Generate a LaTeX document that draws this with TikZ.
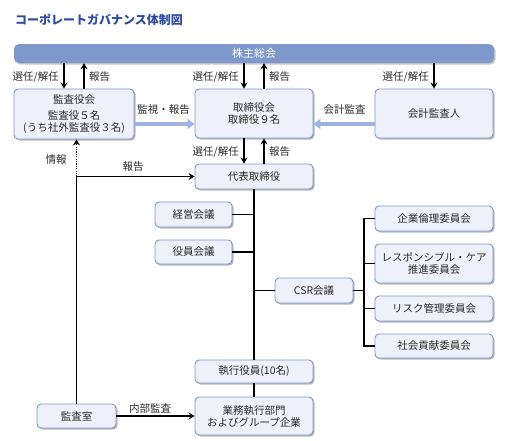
\documentclass[tikz,border=0pt]{standalone}
\usepackage{fontspec}
\setmainfont{Noto Sans CJK JP}
\usetikzlibrary{arrows.meta,shadows}

\definecolor{azul}{HTML}{2E4A9B}
\definecolor{barra}{HTML}{7F98CB}
\definecolor{borde}{HTML}{7A95CF}
\definecolor{fondo}{HTML}{EEF1F9}
\definecolor{flechaazul}{HTML}{9DB2E0}
\definecolor{texto}{HTML}{2A2A2A}

\tikzset{
  caja/.style={draw=borde, fill=fondo, rounded corners=4pt, line width=0.9pt,
    drop shadow={shadow xshift=1.5pt, shadow yshift=-1.5pt, fill=gray!55, opacity=1},
    align=center, inner sep=0pt, text=texto},
  franja/.style={fill=barra, rounded corners=5pt, text=white,
    drop shadow={shadow xshift=1.5pt, shadow yshift=-1.5pt, fill=gray!45, opacity=1}},
  etiqueta/.style={inner sep=0pt, text=texto},
  flecha/.style={line width=1.5pt, -{Stealth[length=6pt,width=7pt]}},
  linea/.style={line width=1.5pt},
  flechaancha/.style={draw=flechaazul, line width=3.5pt, -{Triangle[length=7pt,width=10pt]}}
}

\begin{document}
\begin{tikzpicture}[x=1pt, y=-1pt, font=\fontsize{10.5}{12}\selectfont]
    \useasboundingbox (0,0) rectangle (512,440);

    % Titulo
    \node[anchor=west, inner sep=0pt, text=azul, font=\fontsize{12}{14}\selectfont\bfseries] (titulo) at (15,20) {コーポレートガバナンス体制図};

    % Junta
    \node[franja, minimum width=480pt, minimum height=19pt, font=\fontsize{11}{12}\selectfont] (junta) at (254,53.5) {株主総会};

    % Fila superior
    \node[caja, minimum width=120pt, minimum height=50pt] (auditores) at (74,114) {監査役会\\[4pt]監査役５名\\(うち社外監査役３名)};
    \node[caja, minimum width=118pt, minimum height=49pt] (consejo) at (254,113.5) {取締役会\\取締役９名};
    \node[caja, minimum width=118pt, minimum height=49pt] (contable) at (434,113.5) {会計監査人};

    % Presidente y reuniones
    \node[caja, minimum width=118pt, minimum height=25pt] (presidente) at (254,176.5) {代表取締役};
    \node[caja, minimum width=77pt, minimum height=25pt] (gestion) at (193.5,214.5) {経営会議};
    \node[caja, minimum width=77pt, minimum height=24pt] (directivos) at (193.5,252) {役員会議};
    \node[caja, minimum width=78pt, minimum height=25pt] (csr) at (314,290.5) {CSR会議};

    % Comites
    \node[caja, minimum width=118pt, minimum height=25pt] (etica) at (434,218.5) {企業倫理委員会};
    \node[caja, minimum width=118pt, minimum height=39pt] (cuidado) at (434,263.5) {レスポンシブル・ケア\\推進委員会};
    \node[caja, minimum width=118pt, minimum height=25pt] (riesgo) at (434,308.5) {リスク管理委員会};
    \node[caja, minimum width=118pt, minimum height=24pt] (social) at (434,346) {社会貢献委員会};

    % Ejecutivos
    \node[caja, minimum width=118pt, minimum height=23pt] (ejecutivos) at (254,371.5) {執行役員(10名)};
    \node[caja, minimum width=118pt, minimum height=38pt] (operaciones) at (254,416) {業務執行部門\\およびグループ企業};
    \node[caja, minimum width=79pt, minimum height=24pt] (interna) at (76.5,416) {監査室};

    % Flechas junta
    \draw[flecha] ([xshift=-10pt]auditores.north |- junta.south) -- ([xshift=-10pt]auditores.north);
    \draw[flecha] ([xshift=10pt]auditores.north) -- ([xshift=10pt]auditores.north |- junta.south);
    \draw[flecha] ([xshift=-10pt]consejo.north |- junta.south) -- ([xshift=-10pt]consejo.north);
    \draw[flecha] ([xshift=10pt]consejo.north) -- ([xshift=10pt]consejo.north |- junta.south);
    \draw[flecha] (contable.north |- junta.south) -- (contable.north);
    \node[etiqueta, anchor=east] (nombra1) at (59,77) {選任/解任};
    \node[etiqueta, anchor=west] (informe1) at (89,77) {報告};
    \node[etiqueta, anchor=east] (nombra2) at (239,77) {選任/解任};
    \node[etiqueta, anchor=west] (informe2) at (269,77) {報告};
    \node[etiqueta, anchor=east] (nombra3) at (429,77) {選任/解任};

    % Flechas azules
    \draw[flechaancha] (auditores.east |- 0,124) -- (consejo.west |- 0,124);
    \draw[flechaancha] (contable.west |- 0,124) -- (consejo.east |- 0,124);
    \node[etiqueta] (vigila) at (163.5,110) {監視・報告};
    \node[etiqueta] (cuentas) at (344.5,110) {会計監査};

    % Consejo y presidente
    \draw[flecha] ([xshift=-10pt]consejo.south) -- ([xshift=-10pt]presidente.north);
    \draw[flecha] ([xshift=10pt]presidente.north) -- ([xshift=10pt]consejo.south);
    \node[etiqueta, anchor=east] (nombra4) at (239,152) {選任/解任};
    \node[etiqueta, anchor=west] (informe4) at (269,152) {報告};

    % Auditoria interna
    \coordinate (cruce) at (interna.north |- presidente.west);
    \draw[linea, -{Stealth[length=6pt,width=7pt]}] (interna.north) -- (cruce) -- (presidente.west);
    \draw[line width=1.5pt, dash pattern=on 1.2pt off 1.2pt, -{Stealth[length=6pt,width=7pt]}] (cruce) -- (cruce |- auditores.south);
    \draw[flecha] (interna.east) -- (operaciones.west |- interna.east);
    \node[etiqueta] (dato) at (56,160) {情報};
    \node[etiqueta] (informe5) at (133,167) {報告};
    \node[etiqueta] (auditoria) at (150,409) {内部監査};

    % Linea central
    \draw[linea] (presidente.south) -- (ejecutivos.north);
    \draw[linea] (ejecutivos.south) -- (operaciones.north);
    \draw[linea] (gestion.east) -- (gestion.east -| presidente.south);
    \draw[linea] (directivos.east) -- (directivos.east -| presidente.south);
    \draw[linea] (csr.west) -- (csr.west -| presidente.south);

    % Ramas de comites
    \coordinate (bus) at (364,290.5);
    \draw[linea] (csr.east) -- (bus);
    \draw[linea] (etica.west) -| (bus) |- (social.west);
    \draw[linea] (cuidado.west) -- (cuidado.west -| bus);
    \draw[linea] (riesgo.west) -- (riesgo.west -| bus);
\end{tikzpicture}
\end{document}
